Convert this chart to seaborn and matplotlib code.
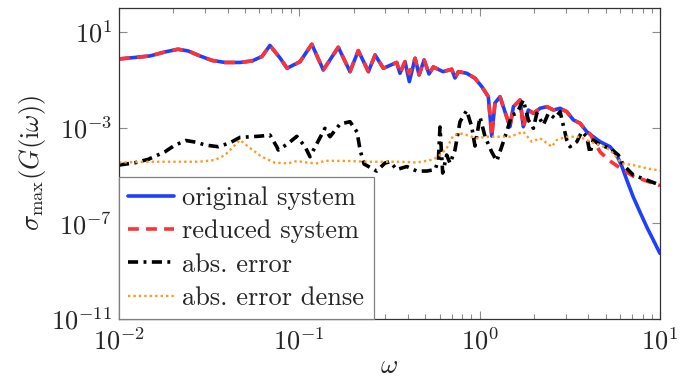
import numpy as np
import pandas as pd
import matplotlib
matplotlib.use("Agg")
import matplotlib.pyplot as plt
from matplotlib.ticker import FixedLocator, NullLocator, FuncFormatter, LogLocator
import seaborn as sns

# values, stored as log10 exponents
shared_lw = [-2.000, -1.911, -1.828, -1.745, -1.673, -1.617, -1.551, -1.484, -1.412, -1.329,
             -1.262, -1.207, -1.163, -1.107, -1.068, -0.996, -0.931, -0.867, -0.784, -0.719,
             -0.673, -0.617, -0.580, -0.534, -0.460, -0.442, -0.414, -0.390, -0.358, -0.336,
             -0.308, -0.281, -0.257, -0.203, -0.155, -0.137, -0.118, -0.072, -0.026, 0.012,
             0.048, 0.067, 0.085, 0.113, 0.131, 0.168, 0.187, 0.224, 0.242, 0.270,
             0.298, 0.335, 0.372, 0.409, 0.446, 0.483, 0.520, 0.557, 0.594]
shared_ls = [-0.130, -0.067, -0.004, 0.163, 0.276, 0.205, -0.004, -0.192, -0.276, -0.276,
             -0.213, -0.025, 0.435, -0.088, -0.519, -0.243, 0.485, -0.590, 0.360, -0.661,
             0.218, -0.661, 0.038, -0.519, -0.276, -0.728, -0.243, -1.079, -0.100, -0.799,
             -0.172, -0.757, -0.464, -0.661, -0.561, -0.925, -0.661, -0.728, -0.937, -1.289,
             -1.707, -3.351, -1.971, -1.707, -2.125, -2.962, -2.125, -1.845, -2.962, -2.264,
             -2.402, -2.192, -2.125, -2.264, -2.192, -2.335, -2.682, -2.820, -3.171]

orig_tail_lw = [0.630, 0.668, 0.723, 0.760, 0.788, 0.816, 0.852, 0.889, 0.927, 1.000]
orig_tail_ls = [-3.381, -3.590, -3.799, -4.146, -4.607, -5.192, -5.904, -6.531, -7.159, -8.259]

red_tail_lw = [0.612, 0.668, 0.723, 0.779, 0.851, 0.927, 1.000]
red_tail_ls = [-3.255, -4.021, -4.397, -4.690, -5.025, -5.234, -5.423]

err_lw = [-2.000, -1.911, -1.838, -1.745, -1.689, -1.628, -1.569, -1.523, -1.449, -1.384,
          -1.329, -1.264, -1.209, -1.163, -1.125, -1.117, -1.061, -1.014, -0.968, -0.941,
          -0.858, -0.830, -0.774, -0.719, -0.680, -0.663, -0.641, -0.571, -0.525, -0.497,
          -0.460, -0.404, -0.349, -0.293, -0.247, -0.229, -0.220, -0.205, -0.183, -0.164,
          -0.137, -0.109, -0.072, -0.044, -0.026, 0.002, 0.030, 0.067, 0.095, 0.122,
          0.150, 0.178, 0.206, 0.242, 0.270, 0.298, 0.317, 0.353, 0.381, 0.418,
          0.446, 0.483, 0.501, 0.539, 0.566, 0.594, 0.612, 0.630, 0.668, 0.723,
          0.769, 0.797, 0.852, 0.927, 1.000]
err_ls = [-4.565, -4.468, -4.326, -4.008, -3.728, -3.540, -3.615, -3.728, -3.799, -3.632,
          -3.406, -3.381, -3.351, -3.310, -3.799, -3.937, -3.657, -3.364, -3.799, -4.217,
          -3.029, -3.381, -2.849, -2.753, -3.184, -3.937, -4.523, -4.816, -4.481, -4.427,
          -4.753, -4.627, -4.816, -4.816, -4.753, -4.356, -2.975, -4.899, -4.146, -4.494,
          -3.937, -2.753, -2.284, -2.962, -3.770, -2.556, -3.381, -4.021, -4.397, -3.799,
          -3.171, -2.473, -2.402, -1.845, -2.682, -3.029, -2.402, -2.891, -2.402, -2.611,
          -2.335, -3.519, -3.799, -3.590, -3.171, -3.381, -4.075, -3.519, -3.728, -3.866,
          -4.146, -4.565, -4.983, -5.192, -5.402]

dense_lw = [-2.000, -1.838, -1.560, -1.468, -1.412, -1.366, -1.329, -1.283, -1.209, -1.135,
            -1.061, -1.014, -0.950, -0.903, -0.858, -0.719, -0.626, -0.442, -0.349, -0.257,
            -0.220, -0.183, -0.146, -0.109, -0.072, -0.016, 0.039, 0.076, 0.113, 0.168,
            0.242, 0.289, 0.335, 0.400, 0.427, 0.483, 0.557, 0.612, 0.668, 0.723,
            0.788, 0.852, 0.927, 1.000]
dense_ls = [-4.460, -4.427, -4.427, -4.356, -4.146, -3.799, -3.519, -3.799, -4.217, -4.468,
            -4.494, -4.397, -4.468, -4.494, -4.385, -4.397, -4.427, -4.427, -4.460, -4.335,
            -4.146, -3.866, -3.330, -3.238, -3.310, -3.448, -3.381, -3.381, -3.381, -3.381,
            -3.171, -3.590, -3.448, -3.799, -3.519, -3.381, -3.381, -3.590, -3.728, -3.937,
            -4.494, -4.565, -4.703, -4.795]

red_shared_ls = list(shared_ls)
red_shared_ls[shared_lw.index(-0.390)] = -0.75

orig = pd.DataFrame({"w": 10.0 ** np.array(shared_lw + orig_tail_lw),
                     "s": 10.0 ** np.array(shared_ls + orig_tail_ls)})
red = pd.DataFrame({"w": 10.0 ** np.array(shared_lw + red_tail_lw),
                    "s": 10.0 ** np.array(red_shared_ls + red_tail_ls)})
err = pd.DataFrame({"w": 10.0 ** np.array(err_lw), "s": 10.0 ** np.array(err_ls)})
dense = pd.DataFrame({"w": 10.0 ** np.array(dense_lw), "s": 10.0 ** np.array(dense_ls)})

sns.set_style("ticks")
plt.rcParams["font.family"] = "serif"
plt.rcParams["font.serif"] = ["cmr10", "DejaVu Serif"]
plt.rcParams["mathtext.fontset"] = "cm"
plt.rcParams["axes.formatter.use_mathtext"] = True
fs = 19

fig = plt.figure(figsize=(6.94, 3.82), dpi=100)
ax = fig.add_axes([119 / 694, 1 - 319 / 382, (660 - 119) / 694, (319 - 8) / 382])

sns.lineplot(data=orig, x="w", y="s", ax=ax, color="#1f3fff", lw=2.6,
             estimator=None, sort=False, label="original system")
sns.lineplot(data=red, x="w", y="s", ax=ax, color="#ff3333", lw=2.6,
             estimator=None, sort=False, label="reduced system", linestyle=(0, (3.0, 2.0)))
sns.lineplot(data=err, x="w", y="s", ax=ax, color="black", lw=2.6,
             estimator=None, sort=False, label="abs. error", linestyle=(0, (2.8, 1.5, 0.8, 1.5)))
sns.lineplot(data=dense, x="w", y="s", ax=ax, color="#ff9a1f", lw=1.7,
             estimator=None, sort=False, label="abs. error dense", linestyle=(0, (1.0, 1.3)))

ax.set_xscale("log")
ax.set_yscale("log")
ax.set_xlim(1e-2, 1e1)
ax.set_ylim(1e-11, 1e2)

ax.yaxis.set_major_locator(FixedLocator([1e-11, 1e-7, 1e-3, 1e1]))
ax.yaxis.set_minor_locator(NullLocator())
ax.xaxis.set_major_locator(FixedLocator([1e-2, 1e-1, 1e0, 1e1]))
ax.xaxis.set_minor_locator(LogLocator(base=10, subs=np.arange(2, 10), numticks=20))
fmt = FuncFormatter(lambda v, p: r"$10^{%d}$" % int(round(np.log10(v))))
ax.xaxis.set_major_formatter(fmt)
ax.yaxis.set_major_formatter(fmt)

ax.tick_params(which="both", direction="in", top=True, right=True, color="#8c8c8c",
               labelsize=fs, width=0.8)
ax.tick_params(which="major", length=6)
ax.tick_params(which="minor", length=3.5)
ax.tick_params(axis="x", which="major", pad=6)
ax.tick_params(axis="y", which="major", pad=5)
for sp in ax.spines.values():
    sp.set_color("#333333")
    sp.set_linewidth(0.9)

ax.set_xlabel(r"$\omega$", fontsize=fs, labelpad=0)
ax.set_ylabel(r"$\sigma_{\max}(G(\mathrm{i}\omega))$", fontsize=fs, labelpad=2)

leg = ax.legend(loc="lower left", borderaxespad=0, fontsize=fs, fancybox=False,
                framealpha=1, edgecolor="#808080", handlelength=1.75, handletextpad=0.3,
                labelspacing=0.36, borderpad=0.35)
leg.get_frame().set_linewidth(0.9)
leg.set_zorder(10)

fig.savefig("out.png", dpi=100)
